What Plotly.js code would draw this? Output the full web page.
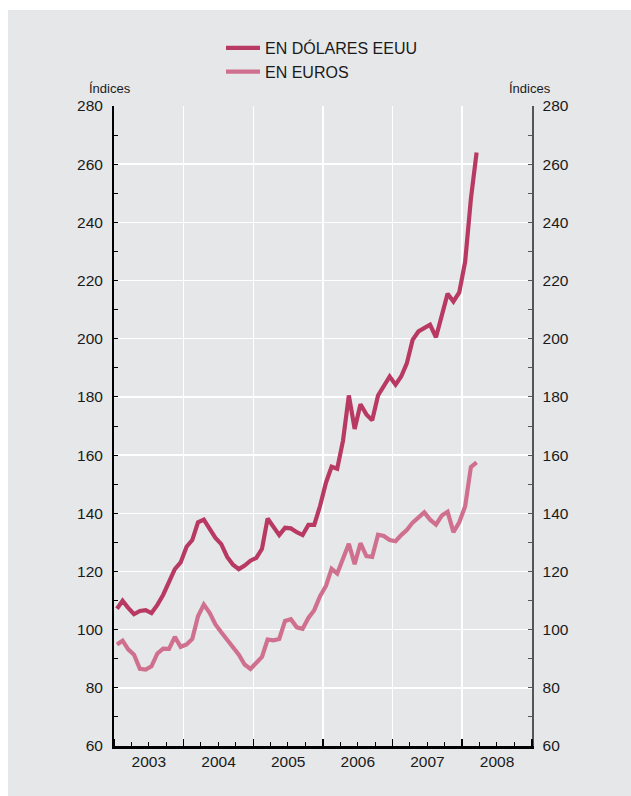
<!DOCTYPE html>
<html>
<head>
<meta charset="utf-8">
<script src="https://cdn.plot.ly/plotly-3.0.1.min.js"></script>
<style>
  html, body { margin: 0; padding: 0; background: #ffffff; width: 631px; height: 796px; overflow: hidden; }
  #chart { position: absolute; left: 8px; top: 10px; width: 623px; height: 786px; }
</style>
</head>
<body>
<div id="chart"></div>
<script>
const months = [
  '2003-01','2003-02','2003-03','2003-04','2003-05','2003-06','2003-07','2003-08','2003-09','2003-10','2003-11','2003-12',
  '2004-01','2004-02','2004-03','2004-04','2004-05','2004-06','2004-07','2004-08','2004-09','2004-10','2004-11','2004-12',
  '2005-01','2005-02','2005-03','2005-04','2005-05','2005-06','2005-07','2005-08','2005-09','2005-10','2005-11','2005-12',
  '2006-01','2006-02','2006-03','2006-04','2006-05','2006-06','2006-07','2006-08','2006-09','2006-10','2006-11','2006-12',
  '2007-01','2007-02','2007-03','2007-04','2007-05','2007-06','2007-07','2007-08','2007-09','2007-10','2007-11','2007-12',
  '2008-01','2008-02','2008-03'
];

const dolares = [
  107.2, 109.9, 107.5, 105.3, 106.4, 106.7, 105.7, 108.5, 112.0, 116.5, 120.8, 123.1,
  128.5, 130.8, 136.9, 137.8, 134.8, 131.5, 129.4, 125.0, 122.3, 120.8, 122.0, 123.7,
  124.7, 127.8, 138.2, 135.5, 132.5, 135.0, 134.8, 133.5, 132.5, 136.0, 136.0, 142.5,
  150.5, 156.0, 155.3, 165.0, 180.5, 169.0, 177.5, 174.0, 172.0, 180.5, 184.0, 187.0,
  184.2, 187.0, 191.5, 199.6, 202.5, 203.7, 204.8, 200.5, 208.0, 215.5, 212.8, 215.9,
  226.5, 248.0, 264.0
];

const euros = [
  94.9, 96.2, 93.2, 91.4, 86.5, 86.3, 87.4, 91.8, 93.5, 93.4, 97.5, 94.1,
  94.9, 96.8, 104.6, 108.6, 105.8, 101.8, 99.1, 96.6, 94.3, 91.4, 88.0, 86.5,
  88.6, 90.6, 96.6, 96.3, 96.8, 103.0, 103.6, 100.8, 100.3, 104.0, 106.7, 111.5,
  115.0, 120.9, 119.3, 124.1, 129.5, 122.5, 129.7, 125.3, 125.0, 132.6, 132.2, 130.8,
  130.4, 132.5, 134.2, 136.8, 138.4, 140.3, 137.8, 136.1, 139.2, 140.5, 133.5, 136.9,
  142.4, 155.9, 157.5
];

const seriesNames = ['EN DÓLARES EEUU', 'EN EUROS'];
const yearTickFormat = '%Y';
const axisTitle = 'Índices';
const yRange = [60, 280];

const FONT = 'Liberation Sans, Arial, Helvetica, sans-serif';
const TXT = '#1a1a1a';
const BG = '#e6e7e9';

const traces = [
  {
    x: months, y: dolares, name: seriesNames[0], type: 'scatter', mode: 'lines',
    xperiod: 'M1', xperiodalignment: 'middle',
    line: { color: '#b83a63', width: 4.2, shape: 'linear' },
    hoverinfo: 'skip'
  },
  {
    x: months, y: euros, name: seriesNames[1], type: 'scatter', mode: 'lines',
    yaxis: 'y2',
    xperiod: 'M1', xperiodalignment: 'middle',
    line: { color: '#d0708f', width: 4.2, shape: 'linear' },
    hoverinfo: 'skip'
  }
];

const layout = {
  width: 623, height: 786,
  margin: { l: 106, r: 99, t: 96, b: 50, pad: 0 },
  paper_bgcolor: BG, plot_bgcolor: BG,
  font: { family: FONT, size: 15.5, color: TXT },
  showlegend: true,
  legend: {
    xref: 'paper', yref: 'paper',
    x: (213 - 106) / 418, y: 1 + (96 - 21) / 640, xanchor: 'left', yanchor: 'top',
    bgcolor: 'rgba(0,0,0,0)', borderwidth: 0,
    font: { family: FONT, size: 16, color: TXT },
    itemwidth: 34, tracegroupgap: 0, traceorder: 'normal'
  },
  xaxis: {
    type: 'date',
    range: ['2003-01-01', '2009-01-01'],
    tick0: '2003-01-01', dtick: 'M12',
    ticklabelmode: 'period', tickformat: yearTickFormat,
    ticks: 'inside', ticklen: 7, tickwidth: 1.5, tickcolor: '#000',
    showline: true, linecolor: '#000', linewidth: 2.5,
    showgrid: true, gridcolor: '#ffffff', gridwidth: 1.5,
    zeroline: false,
    minor: { dtick: 'M3', tick0: '2003-01-01', ticks: 'inside', ticklen: 4, tickwidth: 1, tickcolor: '#000', showgrid: false },
    tickfont: { family: FONT, size: 15.5, color: TXT },
    tickangle: 0,
    fixedrange: true
  },
  yaxis: {
    range: yRange, tick0: 60, dtick: 20,
    ticks: 'inside', ticklen: 4, tickwidth: 1, tickcolor: '#000',
    showline: true, linecolor: '#000', linewidth: 2,
    showgrid: true, gridcolor: '#ffffff', gridwidth: 1.5,
    zeroline: false,
    minor: { dtick: 10, tick0: 60, ticks: 'inside', ticklen: 4, tickwidth: 1, tickcolor: '#000', showgrid: false },
    tickfont: { family: FONT, size: 15.5, color: TXT },
    ticklabelstandoff: 6,
    fixedrange: true
  },
  yaxis2: {
    overlaying: 'y', side: 'right', anchor: 'x',
    range: yRange, tick0: 60, dtick: 20,
    ticks: 'inside', ticklen: 4, tickwidth: 1, tickcolor: '#555',
    showline: true, linecolor: '#555', linewidth: 1.5,
    showgrid: false, zeroline: false,
    minor: { dtick: 10, tick0: 60, ticks: 'inside', ticklen: 4, tickwidth: 1, tickcolor: '#555', showgrid: false },
    tickfont: { family: FONT, size: 15.5, color: TXT },
    ticklabelstandoff: 6,
    fixedrange: true
  },
  annotations: [
    { text: axisTitle, xref: 'paper', yref: 'paper', x: (102 - 106) / 418, y: 1 + 18 / 640,
      xanchor: 'center', yanchor: 'middle', showarrow: false,
      font: { family: FONT, size: 13, color: TXT } },
    { text: axisTitle, xref: 'paper', yref: 'paper', x: (521.5 - 106) / 418, y: 1 + 18 / 640,
      xanchor: 'center', yanchor: 'middle', showarrow: false,
      font: { family: FONT, size: 13, color: TXT } }
  ]
};

Plotly.newPlot('chart', traces, layout, { displayModeBar: false, staticPlot: true });
</script>
</body>
</html>
